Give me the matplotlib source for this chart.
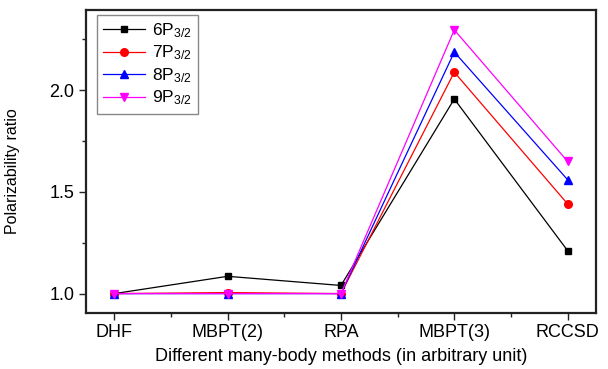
import numpy as np
import matplotlib.pyplot as plt
from matplotlib.ticker import MultipleLocator

plt.rcParams["font.family"] = ["Liberation Sans", "DejaVu Sans"]
plt.rcParams["mathtext.fontset"] = "custom"
plt.rcParams["mathtext.rm"] = "Liberation Sans"
plt.rcParams["mathtext.it"] = "Liberation Sans:italic"

methods = ["DHF", "MBPT(2)", "RPA", "MBPT(3)", "RCCSD"]

ratio_6p = [1.0, 1.085, 1.040, 1.957, 1.211]
ratio_7p = [1.0, 1.005, 1.000, 2.089, 1.441]
ratio_8p = [1.0, 1.000, 1.000, 2.188, 1.560]
ratio_9p = [1.0, 1.000, 1.000, 2.297, 1.650]

series = [
    (r"6P$_{\mathrm{3/2}}$", ratio_6p, "black", "s", 5),
    (r"7P$_{\mathrm{3/2}}$", ratio_7p, "red", "o", 5.5),
    (r"8P$_{\mathrm{3/2}}$", ratio_8p, "blue", "^", 6),
    (r"9P$_{\mathrm{3/2}}$", ratio_9p, "magenta", "v", 6),
]

x = np.arange(len(methods))

fig = plt.figure(figsize=(6.08, 3.69), dpi=100)
ax = fig.add_axes([0.1414, 0.152, 0.8388, 0.821])

for label, vals, color, marker, ms in series:
    ax.plot(x, vals, color=color, marker=marker, markersize=ms, lw=0.9,
            label=label)

ax.set_xlim(-0.25, 4.25)
ax.set_ylim(0.905, 2.395)
ax.set_xticks(x, methods)
ax.xaxis.set_minor_locator(MultipleLocator(0.5))
ax.set_yticks([1.0, 1.5, 2.0])
ax.yaxis.set_minor_locator(MultipleLocator(0.25))

ax.tick_params(which="both", direction="out", top=False, right=False,
               width=1.0, color="#222222")
ax.tick_params(axis="x", which="major", length=5, pad=3.3, labelsize=13)
ax.tick_params(axis="y", which="major", length=5, pad=3.5, labelsize=13)
ax.tick_params(which="minor", length=3)

for sp in ax.spines.values():
    sp.set_linewidth(1.6)
    sp.set_color("#222222")

ax.set_xlabel("Different many-body methods (in arbitrary unit)", fontsize=13,
              labelpad=5)
ax.set_ylabel("Polarizability ratio", fontsize=11.5)
ax.yaxis.set_label_coords(-0.129, 0.469)

leg = ax.legend(loc="upper left", bbox_to_anchor=(0.022, 0.983),
                fontsize=12.5, handlelength=2.4, handletextpad=0.4,
                labelspacing=0.22, borderpad=0.35, fancybox=False,
                framealpha=1, borderaxespad=0)
leg.get_frame().set_edgecolor("#888888")
leg.get_frame().set_linewidth(1.0)

fig.savefig("out.png", dpi=100)
